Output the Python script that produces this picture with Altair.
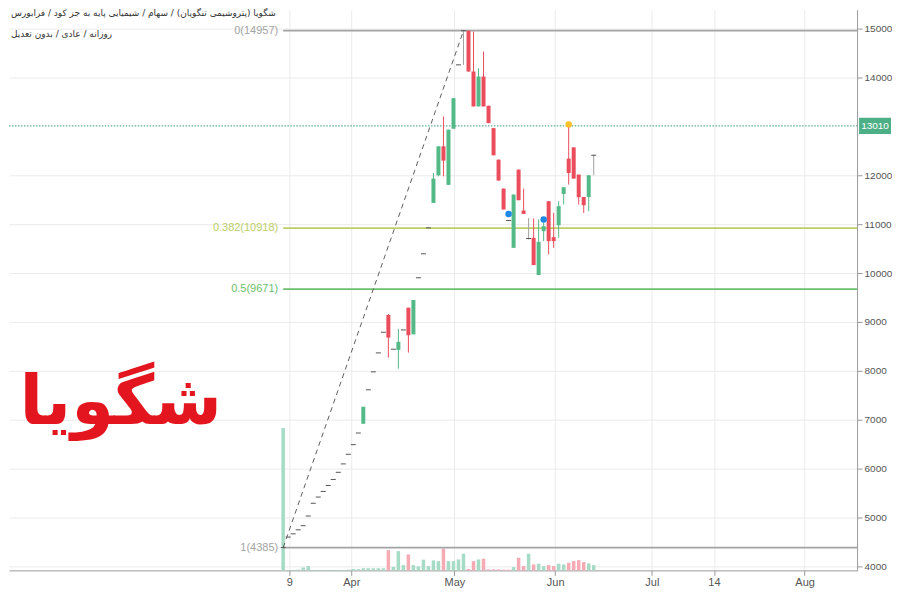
import json
import altair as alt
import pandas as pd

# ---------------- data ----------------
bar_idx = list(range(63))
opens = [4385, 4600, 4666, 4748, 4833, 5030, 5291, 5418, 5533, 5655,
         5778, 5924, 6096, 6293, 6490, 6728, 6918, 7612, 7979, 8367,
         8789, 9142, 8442, 8428, 8837, 9291, 8748, 9904, 10394, 10924,
         11434, 11999, 12592, 11804, 12953, 14259, 14957, 14957, 14122, 13408,
         14020, 13422, 12965, 12320, 11728, 11075, 10516, 12116, 11279, 10707,
         10720, 9959, 10857, 11469, 10734, 10979, 11618, 12341, 12571, 12014,
         11557, 11557, 12410]
closes = [4385, 4600, 4666, 4748, 4833, 5030, 5291, 5418, 5533, 5655,
          5778, 5924, 6096, 6293, 6490, 6728, 7265, 7612, 7979, 8367,
          8789, 8679, 8442, 8592, 8837, 8728, 9449, 9904, 10394, 10924,
          11933, 12592, 12300, 12933, 13577, 14259, 14957, 14122, 13408, 14020,
          13408, 13067, 12408, 11892, 11300, 11075, 11606, 11490, 11210, 10707,
          10163, 10639, 10959, 10653, 10653, 11367, 11755, 12047, 11933, 11551,
          11387, 12000, 12410]
highs = [4385, 4600, 4666, 4748, 4833, 5030, 5291, 5418, 5533, 5655,
         5778, 5924, 6096, 6293, 6490, 6728, 7265, 7612, 7979, 8367,
         8789, 9163, 8442, 8857, 8837, 9291, 9449, 9904, 10394, 10924,
         12047, 12592, 13204, 12933, 13577, 14259, 14957, 14957, 14939, 14190,
         14531, 13422, 12965, 12320, 11728, 11075, 11606, 12116, 11728, 11128,
         11116, 11095, 11100, 11469, 11231, 11469, 11755, 13041, 12571, 12014,
         11557, 12000, 12422]
lows = [4385, 4600, 4666, 4748, 4833, 5030, 5291, 5418, 5533, 5655,
        5778, 5924, 6096, 6293, 6490, 6728, 6918, 7612, 7979, 8367,
        8789, 8271, 8442, 8046, 8837, 8373, 8748, 9904, 10394, 10924,
        11434, 11979, 11979, 11804, 12953, 14259, 14259, 14122, 13408, 13408,
        13408, 13067, 12408, 11892, 11300, 11075, 10516, 11490, 11210, 10687,
        10163, 9959, 10653, 10381, 10516, 10720, 11402, 11810, 11933, 11402,
        11230, 11265, 12000]
volumes = [100, 0.3, 0.3, 0.5, 2, 3, 0.3, 0.3, 0.3, 0.3,
           0.3, 0.3, 0.3, 0.5, 1, 0.8, 1.5, 1.5, 1.5, 1.5,
           1.5, 14.2, 2.5, 13.5, 3.7, 11.2, 3.7, 2.8, 7.5, 3,
           7, 6.5, 15.2, 6.5, 6.5, 7.7, 11.7, 1, 6.5, 7.7,
           8.2, 0.7, 0.7, 0.7, 0.5, 0.5, 2.3, 8.9, 3, 11.7,
           4.2, 4.7, 3, 3.7, 3, 4.7, 4.2, 5.4, 6.5, 7.2,
           5.8, 4.9, 3.7]
vol_dir = (["up"] * 21 + ["down", "up", "up", "up", "down"] + ["up"] * 6 + ["down"]
           + ["up"] * 4 + ["down", "down", "up", "down"] + ["down"] * 5
           + ["up", "down", "down", "up", "down", "up", "up", "down", "down", "up",
              "up", "down", "down", "down", "down", "up", "up"])

price_ticks = [4000, 5000, 6000, 7000, 8000, 9000, 10000, 11000, 12000, 14000, 15000]
x_tick_pos = [1.2, 13.6, 34.2, 54.3, 73.6, 86.0, 104.1]
x_tick_labels = ["9", "Apr", "May", "Jun", "Jul", "14", "Aug"]

fib_levels = [14957, 10918, 9671, 4385]
fib_labels = ["0(14957)", "0.382(10918)", "0.5(9671)", "1(4385)"]
fib_names = ["f0", "f382", "f5", "f1"]
fib_colors = ["#a3a3a3", "#bccf66", "#6cbf6e", "#a3a3a3"]
fib_start_bar = 0

trend_bars = [0, 36]
trend_prices = [4385, 14957]

last_price = 13010
blue_bars = [45, 52]
blue_prices = [11210, 11095]
yellow_bars = [57]
yellow_prices = [13041]

header_1 = "شگویا (پتروشیمی تنگویان) / سهام / شیمیایی پایه به جز کود / فرابورس"
header_2 = "روزانه / عادی / بدون تعدیل"
big_title = "شگویا"

# ---------------- layout ----------------
W, H = 850, 562
X_MIN, X_MAX = -53.74, 113.58
Y_MIN, Y_MAX = 3918, 15388
VOL_MAX = 394

UP, DOWN, FLAT = "#53b987", "#eb4d5c", "#555555"

df = pd.DataFrame({"idx": bar_idx, "open": opens, "close": closes,
                   "high": highs, "low": lows, "vol": volumes, "vdir": vol_dir})
df["dir"] = ["up" if c > o else ("down" if c < o else "flat") for o, c in zip(opens, closes)]

fib_df = pd.DataFrame({"level": fib_levels, "label": fib_labels, "name": fib_names,
                       "start": [fib_start_bar] * len(fib_levels)})
trend_df = pd.DataFrame({"idx": trend_bars, "price": trend_prices})
lp_df = pd.DataFrame({"price": [last_price], "hi": [last_price + 165], "lo": [last_price - 165],
                      "label": [str(last_price)]})
blue_df = pd.DataFrame({"idx": blue_bars, "price": blue_prices})
yellow_df = pd.DataFrame({"idx": yellow_bars, "price": yellow_prices})

x_scale = alt.Scale(domain=[X_MIN, X_MAX], nice=False, zero=False)
y_scale = alt.Scale(domain=[Y_MIN, Y_MAX], nice=False, zero=False)

label_expr = "{}[indexof({}, datum.value)]".format(json.dumps(x_tick_labels), json.dumps(x_tick_pos))
x_axis = alt.Axis(values=x_tick_pos, labelExpr=label_expr, grid=True, gridColor="#ebebeb",
                  domainColor="#9a9a9a", tickColor="#9a9a9a", tickSize=5, labelColor="#555555",
                  labelFont="Liberation Sans", labelFontSize=11, labelPadding=1, title=None,
                  labelFlush=False)
y_axis = alt.Axis(orient="right", values=price_ticks, format="d", grid=True, gridColor="#ebebeb",
                  domainColor="#9a9a9a", tickColor="#9a9a9a", tickSize=5, labelColor="#555555",
                  labelFont="Liberation Sans", labelFontSize=10, labelPadding=2, title=None)


def X(field):
    return alt.X(field, type="quantitative", scale=x_scale, axis=x_axis, title=None)


def Y(field):
    return alt.Y(field, type="quantitative", scale=y_scale, axis=y_axis, title=None)


def Y2(field):
    return alt.Y2(field)


base = alt.Chart(df)


def dir_color():
    return alt.Color("dir:N", scale=alt.Scale(domain=["up", "down", "flat"], range=[UP, DOWN, "#a0a0a0"]),
                     legend=None)


def fib_color():
    return alt.Color("name:N", scale=alt.Scale(domain=fib_names, range=fib_colors), legend=None)


# volume (own scale)
volume = alt.Chart(df).mark_bar(size=3.5).encode(
    x=X("idx"),
    y=alt.Y("vol:Q", scale=alt.Scale(domain=[0, VOL_MAX], nice=False), axis=None),
    color=alt.Color("vdir:N", scale=alt.Scale(domain=["up", "down"], range=["#a6dcc6", "#f5aab4"]),
                    legend=None),
)

fib_lines = alt.Chart(fib_df).mark_rule(strokeWidth=1.8).encode(
    x=X("start"), x2=alt.value(W), y=Y("level"), color=fib_color())
fib_text = alt.Chart(fib_df).mark_text(align="right", baseline="middle", dx=-5,
                                       font="Liberation Sans", fontSize=11).encode(
    x=X("start"), y=Y("level"), text="label:N", color=fib_color())

lp_line = alt.Chart(lp_df).mark_rule(color="#2f9a7a", strokeDash=[1.5, 1.5], strokeWidth=1).encode(
    x=alt.value(0), x2=alt.value(W), y=Y("price"))
lp_box = alt.Chart(lp_df).mark_rect(color="#4caf85").encode(
    x=alt.value(W + 2), x2=alt.value(W + 34), y=Y("hi"), y2=Y2("lo"))
lp_text = alt.Chart(lp_df).mark_text(color="white", font="Liberation Sans", fontSize=10,
                                     align="center", baseline="middle").encode(
    x=alt.value(W + 18), y=Y("price"), text="label:N")

trend = alt.Chart(trend_df).mark_line(color="#5e5e5e", strokeDash=[5, 4], strokeWidth=1).encode(
    x=X("idx"), y=Y("price"))

wicks = base.mark_rule(strokeWidth=1).encode(x=X("idx"), y=Y("low"), y2=Y2("high"), color=dir_color())
bodies = base.transform_filter("datum.dir != 'flat'").mark_bar(size=4).encode(
    x=X("idx"), y=Y("open"), y2=Y2("close"), color=dir_color())
dojis = base.transform_filter("datum.dir == 'flat'").mark_tick(
    orient="horizontal", size=5, thickness=1, color=FLAT, opacity=1).encode(
    x=X("idx"), y=Y("close"))

blue = alt.Chart(blue_df).mark_point(filled=True, size=42, color="#1e88e5", opacity=1).encode(
    x=X("idx"), y=Y("price"))
yellow = alt.Chart(yellow_df).mark_point(filled=True, size=42, color="#f9c02a", opacity=1).encode(
    x=X("idx"), y=Y("price"))

head1 = alt.Chart(pd.DataFrame({"t": [header_1]})).mark_text(
    align="left", baseline="top", font="DejaVu Sans", fontSize=9, color="#333333").encode(
    x=alt.value(2), y=alt.value(-1), text="t:N")
head2 = alt.Chart(pd.DataFrame({"t": [header_2]})).mark_text(
    align="left", baseline="top", font="DejaVu Sans", fontSize=9, color="#333333").encode(
    x=alt.value(2), y=alt.value(20), text="t:N")
big = alt.Chart(pd.DataFrame({"t": [big_title]})).mark_text(
    align="center", baseline="middle", font="DejaVu Sans", fontSize=69, fontWeight="bold",
    color="#e3161f").encode(x=alt.value(112), y=alt.value(394), text="t:N")

price_layer = alt.layer(fib_lines, fib_text, lp_line, trend, wicks, bodies, dojis,
                        blue, yellow, lp_box, lp_text, head1, head2, big
                        ).resolve_scale(color="independent")

chart = alt.layer(volume, price_layer).resolve_scale(y="independent", color="independent").properties(
    width=W, height=H, padding=0, background="white"
).configure_view(stroke=None)

chart.save("out.html", embed_options={"renderer": "svg", "actions": False})
